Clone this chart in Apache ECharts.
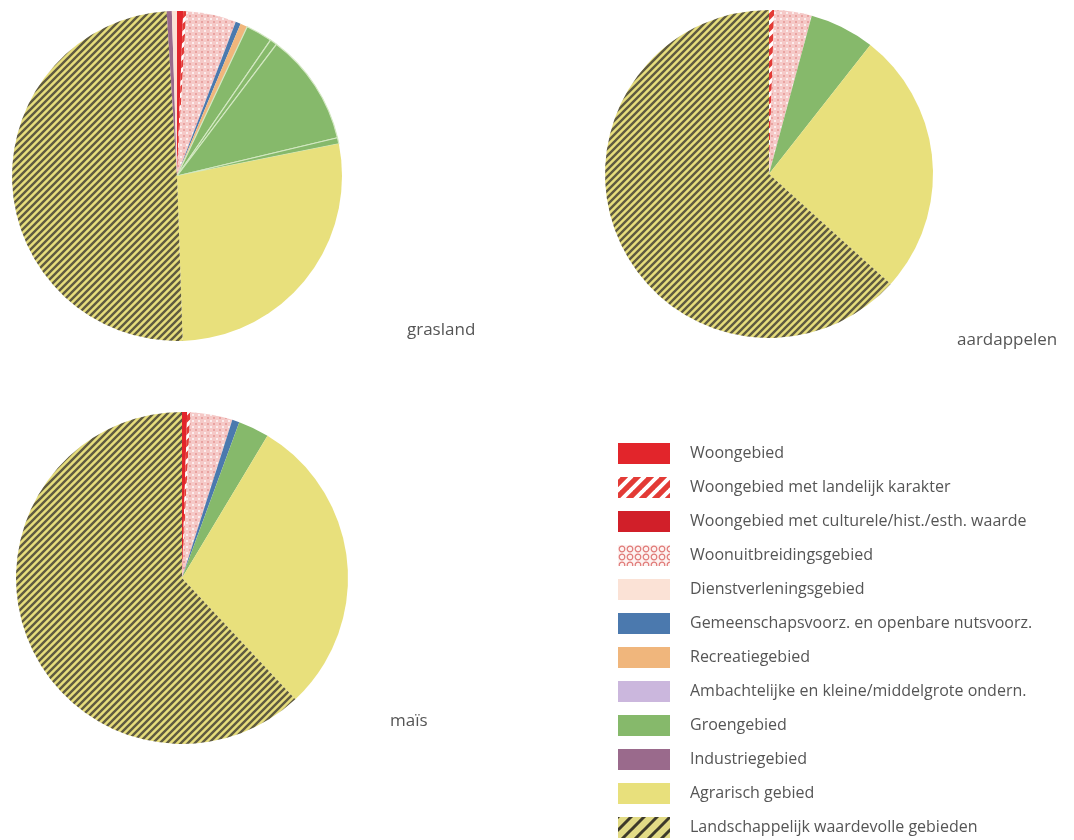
<!DOCTYPE html>
<html>
<head>
<meta charset="utf-8">
<script src="https://cdn.jsdelivr.net/npm/echarts@6/dist/echarts.min.js"></script>
<style>
  html, body { margin: 0; padding: 0; background: #ffffff; }
  #chart { width: 1074px; height: 840px; }
</style>
</head>
<body>
<div id="chart"></div>
<script>
// ---------- data ----------
const categories = [
  'Woongebied',
  'Woongebied met landelijk karakter',
  'Woongebied met culturele/hist./esth. waarde',
  'Woonuitbreidingsgebied',
  'Dienstverleningsgebied',
  'Gemeenschapsvoorz. en openbare nutsvoorz.',
  'Recreatiegebied',
  'Ambachtelijke en kleine/middelgrote ondern.',
  'Groengebied',
  'Industriegebied',
  'Agrarisch gebied',
  'Landschappelijk waardevolle gebieden'
];

const pieTitles = ['grasland', 'aardappelen', 'maïs'];

// slices in clockwise order from 12 o'clock (percent)
const graslandNames = [
  'Woongebied', 'Woongebied met landelijk karakter', 'Woonuitbreidingsgebied',
  'Gemeenschapsvoorz. en openbare nutsvoorz.', 'Recreatiegebied',
  'Groengebied', 'Groengebied', 'Groengebied', 'Groengebied',
  'Agrarisch gebied', 'Landschappelijk waardevolle gebieden',
  'Industriegebied', 'Dienstverleningsgebied'
];
const graslandValues = [0.6, 0.3, 4.9, 0.5, 0.7, 2.6, 0.7, 11.0, 0.6, 27.6, 49.6, 0.5, 0.5];

const aardappelenNames = [
  'Woongebied met landelijk karakter', 'Woonuitbreidingsgebied', 'Groengebied',
  'Agrarisch gebied', 'Landschappelijk waardevolle gebieden'
];
const aardappelenValues = [0.5, 3.7, 6.4, 26.1, 63.3];

const maisNames = [
  'Woongebied', 'Woongebied met landelijk karakter', 'Woonuitbreidingsgebied',
  'Gemeenschapsvoorz. en openbare nutsvoorz.', 'Groengebied',
  'Agrarisch gebied', 'Landschappelijk waardevolle gebieden'
];
const maisValues = [0.5, 0.3, 4.1, 0.7, 3.0, 29.4, 61.9];

// ---------- styles ----------
function makePattern(size, draw) {
  const c = document.createElement('canvas');
  c.width = size; c.height = size;
  const ctx = c.getContext('2d');
  draw(ctx, size);
  return { image: c, repeat: 'repeat' };
}
function diagStripes(bg, fg, size, w) {
  return makePattern(size, (ctx, s) => {
    ctx.fillStyle = bg; ctx.fillRect(0, 0, s, s);
    ctx.strokeStyle = fg; ctx.lineWidth = w;
    ctx.beginPath();
    for (let k = -1; k <= 1; k++) {
      ctx.moveTo(-1 + k * s, s + 1);
      ctx.lineTo(s + 1 + k * s, -1);
    }
    ctx.stroke();
  });
}
const checkered = makePattern(6, (ctx, s) => {
  ctx.fillStyle = '#f5c9c7'; ctx.fillRect(0, 0, s, s);
  ctx.fillStyle = '#fbeeee'; ctx.fillRect(0, 0, 2, 2);
  ctx.fillStyle = '#e9a3a1'; ctx.fillRect(3, 3, 2, 2);
});
const chainLink = makePattern(8, (ctx, s) => {
  ctx.fillStyle = '#fdf3f2'; ctx.fillRect(0, 0, s, s);
  ctx.strokeStyle = '#e07a78'; ctx.lineWidth = 1.2;
  ctx.beginPath(); ctx.arc(4, 4, 2.8, 0, Math.PI * 2); ctx.stroke();
});

const styleOf = {
  'Woongebied': '#e2252b',
  'Woongebied met landelijk karakter': diagStripes('#e33b36', '#ffffff', 12, 3.5),
  'Woongebied met culturele/hist./esth. waarde': '#d11f29',
  'Woonuitbreidingsgebied': checkered,
  'Dienstverleningsgebied': '#fbe2d6',
  'Gemeenschapsvoorz. en openbare nutsvoorz.': '#4b79ae',
  'Recreatiegebied': '#f0b67c',
  'Ambachtelijke en kleine/middelgrote ondern.': '#cbb7dd',
  'Groengebied': '#86b96b',
  'Industriegebied': '#9a6a8c',
  'Agrarisch gebied': '#e8e07c',
  'Landschappelijk waardevolle gebieden': diagStripes('#e6dd7c', '#5f5b40', 7, 2.4)
};
// coarser swatches used only in the legend
const legendStyleOf = {
  'Woongebied met landelijk karakter': diagStripes('#e33b36', '#ffffff', 13, 4),
  'Woonuitbreidingsgebied': chainLink,
  'Landschappelijk waardevolle gebieden': diagStripes('#e2db86', '#3d3a2a', 13, 3)
};

function buildData(names, values, addMissing) {
  const d = names.map((n, i) => {
    const item = { name: n, value: values[i], itemStyle: { color: styleOf[n] } };
    if (n === 'Groengebied' && addMissing) {
      item.itemStyle.borderColor = '#d3e8c2';
      item.itemStyle.borderWidth = 1.2;
    }
    return item;
  });
  if (addMissing) {
    const used = new Set([...graslandNames, ...aardappelenNames, ...maisNames]);
    categories.forEach(n => {
      if (!used.has(n)) d.push({ name: n, value: 0, itemStyle: { color: styleOf[n] } });
    });
  }
  return d;
}

const pieBase = {
  type: 'pie',
  startAngle: 90,
  clockwise: true,
  label: { show: false },
  labelLine: { show: false },
  emphasis: { disabled: true },
  silent: true,
  avoidLabelOverlap: false,
  itemStyle: { borderWidth: 0 },
  minAngle: 0
};

const titleStyle = { fontSize: 17, fontWeight: 'normal', color: '#555555', fontFamily: 'Open Sans' };

const chart = echarts.init(document.getElementById('chart'), null, { renderer: 'canvas' });
chart.setOption({
  backgroundColor: '#ffffff',
  animation: false,
  title: [
    { text: pieTitles[0], left: 407, top: 322, padding: 0, textStyle: titleStyle },
    { text: pieTitles[1], left: 957, top: 332, padding: 0, textStyle: titleStyle },
    { text: pieTitles[2], left: 390, top: 713, padding: 0, textStyle: titleStyle }
  ],
  legend: {
    orient: 'vertical',
    left: 618,
    top: 443,
    padding: 0,
    icon: 'rect',
    itemWidth: 52,
    itemHeight: 21,
    itemGap: 13,
    selectedMode: false,
    data: categories.map(n => legendStyleOf[n]
      ? { name: n, itemStyle: { color: legendStyleOf[n] } }
      : { name: n }),
    itemStyle: { borderWidth: 0 },
    textStyle: { fontSize: 16, color: '#555555', fontFamily: 'Open Sans', padding: [0, 0, 0, 15] }
  },
  series: [
    Object.assign({}, pieBase, { name: pieTitles[0], center: [177, 176], radius: 165,
      data: buildData(graslandNames, graslandValues, true) }),
    Object.assign({}, pieBase, { name: pieTitles[1], center: [769, 174], radius: 164,
      data: buildData(aardappelenNames, aardappelenValues, false) }),
    Object.assign({}, pieBase, { name: pieTitles[2], center: [182, 578], radius: 166,
      data: buildData(maisNames, maisValues, false) })
  ]
});
</script>
</body>
</html>
